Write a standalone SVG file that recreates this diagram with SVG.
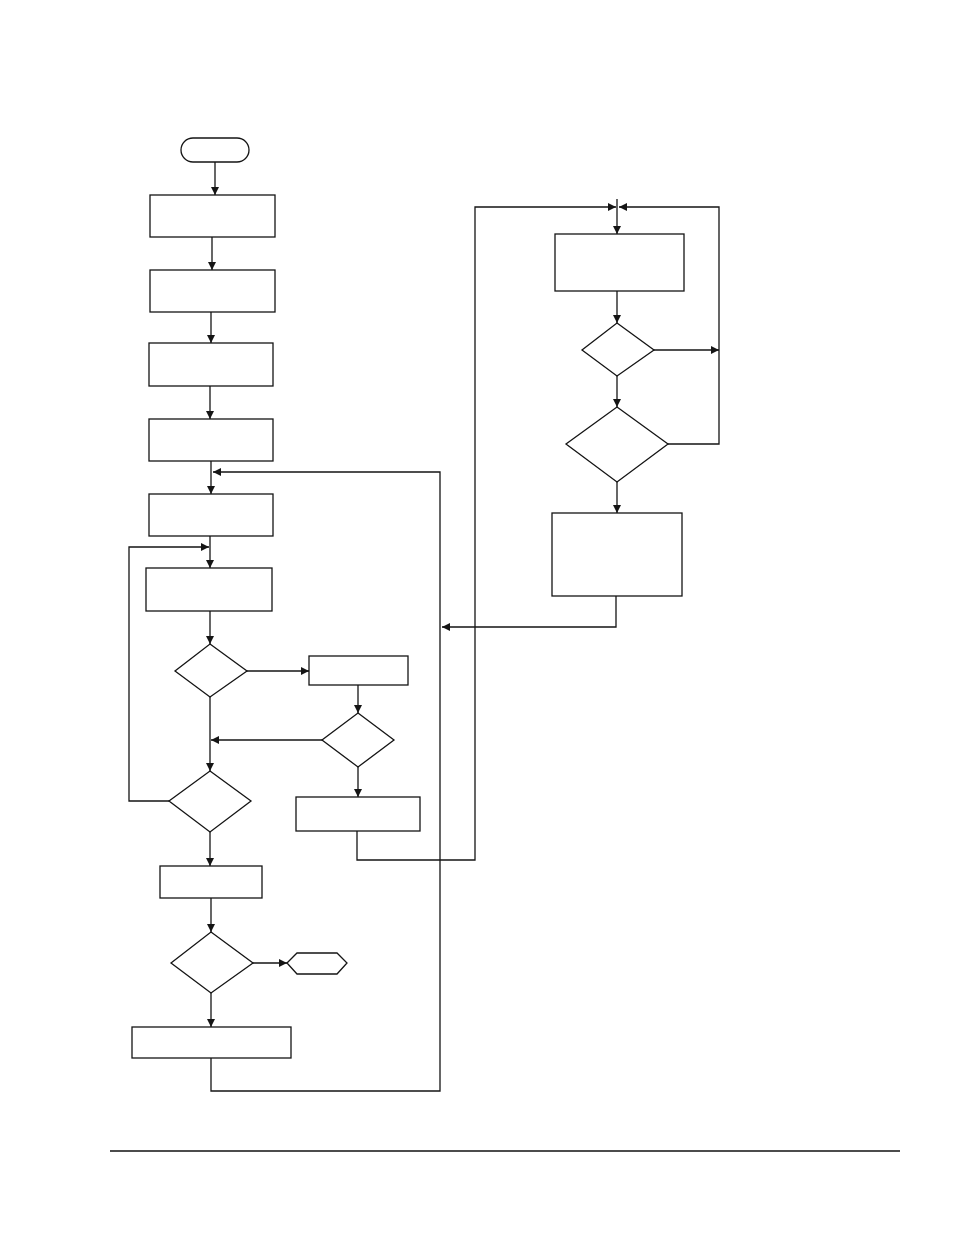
<svg xmlns="http://www.w3.org/2000/svg" width="954" height="1235" viewBox="0 0 954 1235">
<style>
.n{fill:#fff;stroke:#151515;stroke-width:1.3}
.c{fill:none;stroke:#151515;stroke-width:1.3}
.a{marker-end:url(#ah)}
</style>
<defs>
<marker id="ah" markerUnits="userSpaceOnUse" markerWidth="9" markerHeight="9" refX="8" refY="4" orient="auto">
<path d="M0,0 L8,4 L0,8 z" fill="#151515"/>
</marker>
</defs>
<rect width="954" height="1235" fill="#fff"/>
<g id="nodes">
<g id="start"><rect class="n" x="181" y="138" width="68" height="24" rx="12"/></g>
<g id="box1"><rect class="n" x="150" y="195" width="125" height="42"/></g>
<g id="box2"><rect class="n" x="150" y="270" width="125" height="42"/></g>
<g id="box3"><rect class="n" x="149" y="343" width="124" height="43"/></g>
<g id="box4"><rect class="n" x="149" y="419" width="124" height="42"/></g>
<g id="box5"><rect class="n" x="149" y="494" width="124" height="42"/></g>
<g id="box6"><rect class="n" x="146" y="568" width="126" height="43"/></g>
<g id="d1"><polygon class="n" points="210,644 247,671 210,697 175,671"/></g>
<g id="box7"><rect class="n" x="309" y="656" width="99" height="29"/></g>
<g id="d2"><polygon class="n" points="358,713 394,740 358,767 322,740"/></g>
<g id="d3"><polygon class="n" points="210,771 251,801 210,832 169,801"/></g>
<g id="box8"><rect class="n" x="296" y="797" width="124" height="34"/></g>
<g id="box9"><rect class="n" x="160" y="866" width="102" height="32"/></g>
<g id="d4"><polygon class="n" points="211,932 253,963 211,993 171,963"/></g>
<g id="end"><polygon class="n" points="287,963 297,953 337,953 347,963 337,974 297,974"/></g>
<g id="box10"><rect class="n" x="132" y="1027" width="159" height="31"/></g>
<g id="box11"><rect class="n" x="555" y="234" width="129" height="57"/></g>
<g id="d5"><polygon class="n" points="617,323 654,350 617,376 582,350"/></g>
<g id="d6"><polygon class="n" points="617,407 668,444 617,482 566,444"/></g>
<g id="box12"><rect class="n" x="552" y="513" width="130" height="83"/></g>
</g>
<g id="connectors">
<path class="c a" d="M215,162 V195"/>
<path class="c a" d="M212,237 V270"/>
<path class="c a" d="M211,312 V343"/>
<path class="c a" d="M210,386 V419"/>
<path class="c a" d="M211,461 V494"/>
<path class="c a" d="M211,1058 V1091 H440 V472 H213"/>
<path class="c a" d="M210,536 V568"/>
<path class="c a" d="M169,801 H129 V547 H209"/>
<path class="c a" d="M210,611 V644"/>
<path class="c a" d="M247,671 H309"/>
<path class="c a" d="M358,685 V713"/>
<path class="c a" d="M322,740 H211"/>
<path class="c a" d="M210,697 V771"/>
<path class="c a" d="M358,767 V797"/>
<path class="c a" d="M357,831 V860 H475 V207 H616"/>
<path class="c a" d="M617,199 V234"/>
<path class="c a" d="M617,291 V323"/>
<path class="c a" d="M654,350 H719"/>
<path class="c a" d="M617,376 V407"/>
<path class="c a" d="M668,444 H719 V207 H619"/>
<path class="c a" d="M617,482 V513"/>
<path class="c a" d="M616,596 V627 H442"/>
<path class="c a" d="M210,832 V866"/>
<path class="c a" d="M211,898 V932"/>
<path class="c a" d="M253,963 H287"/>
<path class="c a" d="M211,993 V1027"/>
</g>
<line x1="110" y1="1151" x2="900" y2="1151" stroke="#111" stroke-width="1.5"/>
</svg>
